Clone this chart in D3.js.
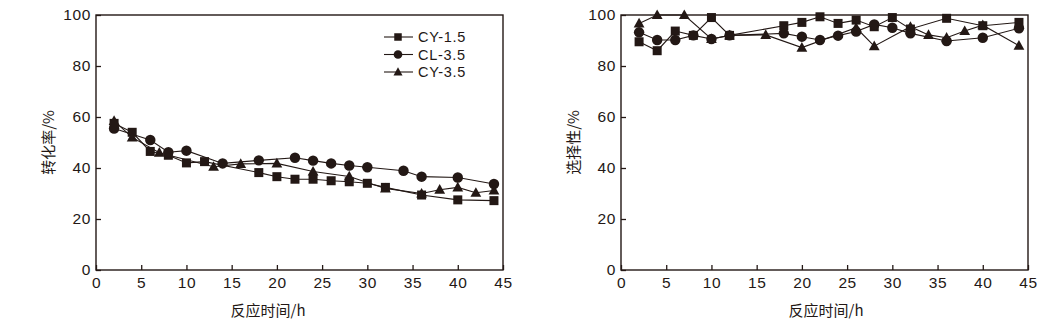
<!DOCTYPE html>
<html><head><meta charset="utf-8">
<script src="https://cdn.jsdelivr.net/npm/d3@7/dist/d3.min.js"></script>
<style>
body{margin:0;background:#fff;}
svg text{font-family:"Liberation Sans",Arial,sans-serif;fill:#231815;}
</style></head><body>
<svg id="c" width="1053" height="335"></svg>
<script>
// ---- data ----
const xTicks = [0,5,10,15,20,25,30,35,40,45];
const yTicks = [0,20,40,60,80,100];
const seriesNames = ["CY-1.5","CL-3.5","CY-3.5"];
const seriesShapes = ["square","circle","triangle"];

// Left: conversion
const convCY15T = [2,4,6,8,10,12,18,20,22,24,26,28,30,32,36,40,44];
const convCY15V = [57.5,54,46.5,45,42,42.5,38.2,36.6,35.6,35.6,35,34.6,34,32.4,29.4,27.5,27.2];
const convCL35T = [2,6,8,10,14,18,22,24,26,28,30,34,36,40,44];
const convCL35V = [55.5,51,46.2,46.8,41.8,43,44,42.9,41.8,41,40.3,38.9,36.6,36.3,33.7];
const convCY35T = [2,4,7,13,16,20,24,28,32,36,38,40,42,44];
const convCY35V = [58.5,52,46,40.5,41.6,41.8,38.6,36.7,32,30,31.5,32.4,30.3,31.2];

// Right: selectivity
const selCY15T = [2,4,6,8,10,12,18,20,22,24,26,28,30,32,36,40,44];
const selCY15V = [89.5,86,93.7,92,99,92,95.8,97.1,99.3,96.7,98,95.4,99,94.5,98.7,95.8,97.1];
const selCL35T = [2,4,6,8,10,12,18,20,22,24,26,28,30,32,36,40,44];
const selCL35V = [93.2,90.2,90.2,92,90.6,92,92.8,91.5,90.2,91.9,93.5,96.3,95,92.8,89.8,91.1,94.8];
const selCY35T = [2,4,7,10,12,16,20,26,28,32,34,36,38,40,44];
const selCY35V = [96.7,100,100,90.6,92,92.2,87.2,95,87.8,95.4,92.2,91.1,93.7,96,88];

const ink = "#231815";
const svg = d3.select("#c");

function marker(g, shape, x, y, s){
  if(shape==="square"){
    g.append("rect").attr("x",x-s/2).attr("y",y-s/2).attr("width",s).attr("height",s).attr("fill",ink);
  } else if(shape==="circle"){
    g.append("circle").attr("cx",x).attr("cy",y).attr("r",s*0.58).attr("fill",ink);
  } else {
    const h=s*1.0, w=s*1.2;
    g.append("path").attr("d",`M${x},${y-h*0.62}L${x+w/2},${y+h*0.45}L${x-w/2},${y+h*0.45}Z`).attr("fill",ink);
  }
}

function panel(x0, x1, ytitle, xtitleX, series, legend){
  const y0 = 15, y1 = 270;
  const x = d3.scaleLinear().domain([0,45]).range([x0,x1]);
  const y = d3.scaleLinear().domain([0,100]).range([y1,y0]);
  const g = svg.append("g");

  series.forEach((s,i)=>{
    const pts = s.t.map((t,k)=>[t,s.v[k]]);
    g.append("path").datum(pts)
      .attr("d", d3.line().x(d=>x(d[0])).y(d=>y(d[1])))
      .attr("fill","none").attr("stroke",ink).attr("stroke-width",1.1);
  });
  series.forEach((s,i)=>{
    s.t.forEach((t,k)=>marker(g, seriesShapes[i], x(t), y(s.v[k]), 9));
  });

  g.append("rect").attr("x",x0).attr("y",y0).attr("width",x1-x0).attr("height",y1-y0)
    .attr("fill","none").attr("stroke",ink).attr("stroke-width",1.4);

  const xa = g.append("g").attr("transform",`translate(0,${y1})`)
    .call(d3.axisBottom(x).tickValues(xTicks).tickSizeInner(-5).tickSizeOuter(0).tickPadding(7));
  const ya = g.append("g").attr("transform",`translate(${x0},0)`)
    .call(d3.axisLeft(y).tickValues(yTicks).tickSizeInner(-5).tickSizeOuter(0).tickPadding(5));
  [xa,ya].forEach(a=>{
    a.select(".domain").remove();
    a.selectAll("line").attr("stroke",ink).attr("stroke-width",1.3);
    a.selectAll("text").attr("font-size",15.5).attr("letter-spacing","0.6px")
      .attr("font-family","'Liberation Sans',Arial,sans-serif").attr("fill",ink);
  });

  g.append("text").attr("x",xtitleX).attr("y",316).attr("text-anchor","middle")
    .attr("font-size",15).style("font-family","'Noto Sans CJK SC','Liberation Sans',sans-serif")
    .text("反应时间/h");
  g.append("text").attr("transform",`translate(${x0-42},${(y0+y1)/2}) rotate(-90)`)
    .attr("text-anchor","middle").attr("font-size",15)
    .style("font-family","'Noto Sans CJK SC','Liberation Sans',sans-serif")
    .text(ytitle);

  if(legend){
    seriesNames.forEach((n,i)=>{
      const ly = 37 + i*17.5;
      g.append("line").attr("x1",384).attr("x2",413).attr("y1",ly).attr("y2",ly)
        .attr("stroke",ink).attr("stroke-width",1.1);
      marker(g, seriesShapes[i], 398, ly, 7.5);
      g.append("text").attr("x",418).attr("y",ly+5).attr("font-size",14.5)
        .attr("letter-spacing","0.7px").text(n);
    });
  }
}

panel(96, 503, "转化率/%", 268, [
  {t:convCY15T, v:convCY15V},
  {t:convCL35T, v:convCL35V},
  {t:convCY35T, v:convCY35V}
], true);

panel(621, 1028, "选择性/%", 826, [
  {t:selCY15T, v:selCY15V},
  {t:selCL35T, v:selCL35V},
  {t:selCY35T, v:selCY35V}
], false);
</script>
</body></html>
